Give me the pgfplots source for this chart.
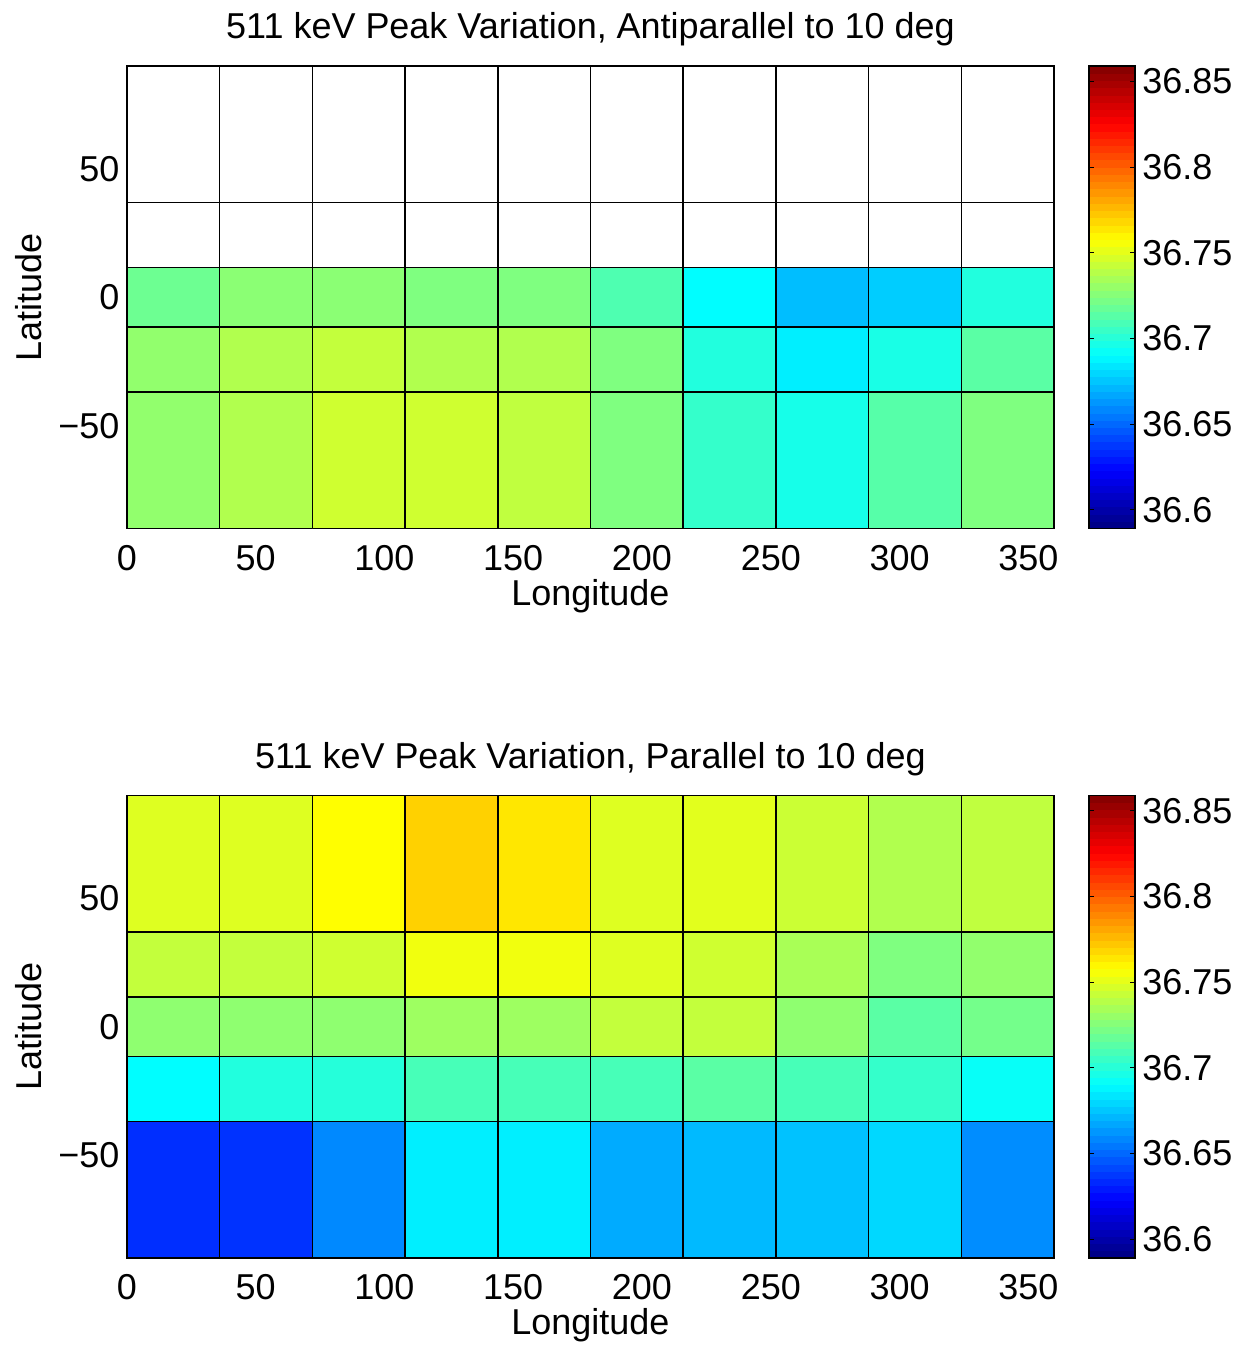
\documentclass[border=0pt]{standalone}
\usepackage{pgfplots}
\usepackage{pgfplotstable}
\pgfplotsset{compat=1.18}
\usepgfplotslibrary{patchplots}
\usepackage{fontspec}
\setmainfont{Liberation Sans}
\newcommand{\fs}{\fontsize{18}{21.6}\selectfont}
\pgfplotsset{colormap={allwhite}{rgb=(1,1,1) rgb=(1,1,1)}}
\pgfplotsset{colormap/jet}
\pgfplotstableread[row sep=\\]{
x y\\
0 36.5890\\ 1 36.5890\\ 1 36.5932\\ 0 36.5932\\
0 36.5932\\ 1 36.5932\\ 1 36.5974\\ 0 36.5974\\
0 36.5974\\ 1 36.5974\\ 1 36.6017\\ 0 36.6017\\
0 36.6017\\ 1 36.6017\\ 1 36.6059\\ 0 36.6059\\
0 36.6059\\ 1 36.6059\\ 1 36.6101\\ 0 36.6101\\
0 36.6101\\ 1 36.6101\\ 1 36.6143\\ 0 36.6143\\
0 36.6143\\ 1 36.6143\\ 1 36.6185\\ 0 36.6185\\
0 36.6185\\ 1 36.6185\\ 1 36.6228\\ 0 36.6228\\
0 36.6228\\ 1 36.6228\\ 1 36.6270\\ 0 36.6270\\
0 36.6270\\ 1 36.6270\\ 1 36.6312\\ 0 36.6312\\
0 36.6312\\ 1 36.6312\\ 1 36.6354\\ 0 36.6354\\
0 36.6354\\ 1 36.6354\\ 1 36.6396\\ 0 36.6396\\
0 36.6396\\ 1 36.6396\\ 1 36.6438\\ 0 36.6438\\
0 36.6438\\ 1 36.6438\\ 1 36.6481\\ 0 36.6481\\
0 36.6481\\ 1 36.6481\\ 1 36.6523\\ 0 36.6523\\
0 36.6523\\ 1 36.6523\\ 1 36.6565\\ 0 36.6565\\
0 36.6565\\ 1 36.6565\\ 1 36.6607\\ 0 36.6607\\
0 36.6607\\ 1 36.6607\\ 1 36.6649\\ 0 36.6649\\
0 36.6649\\ 1 36.6649\\ 1 36.6692\\ 0 36.6692\\
0 36.6692\\ 1 36.6692\\ 1 36.6734\\ 0 36.6734\\
0 36.6734\\ 1 36.6734\\ 1 36.6776\\ 0 36.6776\\
0 36.6776\\ 1 36.6776\\ 1 36.6818\\ 0 36.6818\\
0 36.6818\\ 1 36.6818\\ 1 36.6860\\ 0 36.6860\\
0 36.6860\\ 1 36.6860\\ 1 36.6903\\ 0 36.6903\\
0 36.6903\\ 1 36.6903\\ 1 36.6945\\ 0 36.6945\\
0 36.6945\\ 1 36.6945\\ 1 36.6987\\ 0 36.6987\\
0 36.6987\\ 1 36.6987\\ 1 36.7029\\ 0 36.7029\\
0 36.7029\\ 1 36.7029\\ 1 36.7071\\ 0 36.7071\\
0 36.7071\\ 1 36.7071\\ 1 36.7113\\ 0 36.7113\\
0 36.7113\\ 1 36.7113\\ 1 36.7156\\ 0 36.7156\\
0 36.7156\\ 1 36.7156\\ 1 36.7198\\ 0 36.7198\\
0 36.7198\\ 1 36.7198\\ 1 36.7240\\ 0 36.7240\\
0 36.7240\\ 1 36.7240\\ 1 36.7282\\ 0 36.7282\\
0 36.7282\\ 1 36.7282\\ 1 36.7324\\ 0 36.7324\\
0 36.7324\\ 1 36.7324\\ 1 36.7367\\ 0 36.7367\\
0 36.7367\\ 1 36.7367\\ 1 36.7409\\ 0 36.7409\\
0 36.7409\\ 1 36.7409\\ 1 36.7451\\ 0 36.7451\\
0 36.7451\\ 1 36.7451\\ 1 36.7493\\ 0 36.7493\\
0 36.7493\\ 1 36.7493\\ 1 36.7535\\ 0 36.7535\\
0 36.7535\\ 1 36.7535\\ 1 36.7578\\ 0 36.7578\\
0 36.7578\\ 1 36.7578\\ 1 36.7620\\ 0 36.7620\\
0 36.7620\\ 1 36.7620\\ 1 36.7662\\ 0 36.7662\\
0 36.7662\\ 1 36.7662\\ 1 36.7704\\ 0 36.7704\\
0 36.7704\\ 1 36.7704\\ 1 36.7746\\ 0 36.7746\\
0 36.7746\\ 1 36.7746\\ 1 36.7788\\ 0 36.7788\\
0 36.7788\\ 1 36.7788\\ 1 36.7831\\ 0 36.7831\\
0 36.7831\\ 1 36.7831\\ 1 36.7873\\ 0 36.7873\\
0 36.7873\\ 1 36.7873\\ 1 36.7915\\ 0 36.7915\\
0 36.7915\\ 1 36.7915\\ 1 36.7957\\ 0 36.7957\\
0 36.7957\\ 1 36.7957\\ 1 36.7999\\ 0 36.7999\\
0 36.7999\\ 1 36.7999\\ 1 36.8042\\ 0 36.8042\\
0 36.8042\\ 1 36.8042\\ 1 36.8084\\ 0 36.8084\\
0 36.8084\\ 1 36.8084\\ 1 36.8126\\ 0 36.8126\\
0 36.8126\\ 1 36.8126\\ 1 36.8168\\ 0 36.8168\\
0 36.8168\\ 1 36.8168\\ 1 36.8210\\ 0 36.8210\\
0 36.8210\\ 1 36.8210\\ 1 36.8253\\ 0 36.8253\\
0 36.8253\\ 1 36.8253\\ 1 36.8295\\ 0 36.8295\\
0 36.8295\\ 1 36.8295\\ 1 36.8337\\ 0 36.8337\\
0 36.8337\\ 1 36.8337\\ 1 36.8379\\ 0 36.8379\\
0 36.8379\\ 1 36.8379\\ 1 36.8421\\ 0 36.8421\\
0 36.8421\\ 1 36.8421\\ 1 36.8463\\ 0 36.8463\\
0 36.8463\\ 1 36.8463\\ 1 36.8506\\ 0 36.8506\\
0 36.8506\\ 1 36.8506\\ 1 36.8548\\ 0 36.8548\\
0 36.8548\\ 1 36.8548\\ 1 36.8590\\ 0 36.8590\\
}\cbtab
\pgfplotsset{
  heat/.style={
    scale only axis, width=464pt, height=231.5pt,
    xmin=0, xmax=360, ymin=-90, ymax=90,
    xtick={0,50,100,150,200,250,300,350}, ytick={-50,0,50}, yticklabels={−50,0,50},
    tick align=inside, xtick pos=both, ytick pos=both,
    xticklabel pos=bottom, yticklabel pos=left,
    major tick length=4pt,
    tick style={black, line width=0.5pt},
    axis line style={black, line width=0.7pt},
    /pgf/number format/assume math mode=true,
    tick label style={font=\fs},
    xticklabel style={anchor=base, yshift=-21pt},
    yticklabel style={anchor=east, inner sep=0pt, xshift=-3.5pt},
    label style={font=\fs},
    title style={font=\fs, at={(axis description cs:0.5,1)}, anchor=base, yshift=7.5pt},
    xlabel={Longitude}, ylabel={Latitude},
    xlabel style={at={(axis description cs:0.5,0)}, anchor=base, yshift=-38.5pt},
    ylabel style={at={(axis description cs:-0.0916,0.5)}, anchor=base},
    colormap/jet,
    point meta min=36.589, point meta max=36.859,
  },
  cbar/.style={
    scale only axis, width=23pt, height=231.5pt,
    xmin=0, xmax=1, ymin=36.589, ymax=36.859,
    xtick=\empty,
    ytick={36.6,36.65,36.7,36.75,36.8,36.85},
    yticklabels={36.6,36.65,36.7,36.75,36.8,36.85},
    tick align=inside, ytick pos=both, yticklabel pos=right,
    major tick length=2.5pt,
    axis on top,
    tick style={black, line width=0.5pt},
    /pgf/number format/assume math mode=true,
    yticklabel style={font=\fs, anchor=west, inner sep=0pt, xshift=3.5pt},
    axis line style={black, line width=0.7pt},
    colormap/jet, point meta min=36.589, point meta max=36.859,
  },
  cbplot/.style={patch, patch type=rectangle, shader=faceted, faceted color=mapped color, line width=0.4pt, point meta=y},
  cells/.style={patch, patch type=rectangle, shader=faceted, faceted color=black, line width=0.8pt, point meta=explicit},
}
\begin{document}
\begin{tikzpicture}
\begin{axis}[heat, at={(0,0)}, anchor=north west,
  title={511 keV Peak Variation, Antiparallel to 10 deg}]
\addplot[cells, colormap name=allwhite] table[meta=c, row sep=\\] {
x y c\\
0 11.54 0\\ 36 11.54 0\\ 36 36.87 0\\ 0 36.87 0\\
36 11.54 0\\ 72 11.54 0\\ 72 36.87 0\\ 36 36.87 0\\
72 11.54 0\\ 108 11.54 0\\ 108 36.87 0\\ 72 36.87 0\\
108 11.54 0\\ 144 11.54 0\\ 144 36.87 0\\ 108 36.87 0\\
144 11.54 0\\ 180 11.54 0\\ 180 36.87 0\\ 144 36.87 0\\
180 11.54 0\\ 216 11.54 0\\ 216 36.87 0\\ 180 36.87 0\\
216 11.54 0\\ 252 11.54 0\\ 252 36.87 0\\ 216 36.87 0\\
252 11.54 0\\ 288 11.54 0\\ 288 36.87 0\\ 252 36.87 0\\
288 11.54 0\\ 324 11.54 0\\ 324 36.87 0\\ 288 36.87 0\\
324 11.54 0\\ 360 11.54 0\\ 360 36.87 0\\ 324 36.87 0\\
0 36.87 0\\ 36 36.87 0\\ 36 90 0\\ 0 90 0\\
36 36.87 0\\ 72 36.87 0\\ 72 90 0\\ 36 90 0\\
72 36.87 0\\ 108 36.87 0\\ 108 90 0\\ 72 90 0\\
108 36.87 0\\ 144 36.87 0\\ 144 90 0\\ 108 90 0\\
144 36.87 0\\ 180 36.87 0\\ 180 90 0\\ 144 90 0\\
180 36.87 0\\ 216 36.87 0\\ 216 90 0\\ 180 90 0\\
216 36.87 0\\ 252 36.87 0\\ 252 90 0\\ 216 90 0\\
252 36.87 0\\ 288 36.87 0\\ 288 90 0\\ 252 90 0\\
288 36.87 0\\ 324 36.87 0\\ 324 90 0\\ 288 90 0\\
324 36.87 0\\ 360 36.87 0\\ 360 90 0\\ 324 90 0\\
};
\addplot[cells] table[meta=c, row sep=\\] {
x y c\\
0 -90 36.729\\ 36 -90 36.729\\ 36 -36.87 36.729\\ 0 -36.87 36.729\\
36 -90 36.737\\ 72 -90 36.737\\ 72 -36.87 36.737\\ 36 -36.87 36.737\\
72 -90 36.745\\ 108 -90 36.745\\ 108 -36.87 36.745\\ 72 -36.87 36.745\\
108 -90 36.745\\ 144 -90 36.745\\ 144 -36.87 36.745\\ 108 -36.87 36.745\\
144 -90 36.741\\ 180 -90 36.741\\ 180 -36.87 36.741\\ 144 -36.87 36.741\\
180 -90 36.724\\ 216 -90 36.724\\ 216 -36.87 36.724\\ 180 -36.87 36.724\\
216 -90 36.704\\ 252 -90 36.704\\ 252 -36.87 36.704\\ 216 -36.87 36.704\\
252 -90 36.696\\ 288 -90 36.696\\ 288 -36.87 36.696\\ 252 -36.87 36.696\\
288 -90 36.713\\ 324 -90 36.713\\ 324 -36.87 36.713\\ 288 -36.87 36.713\\
324 -90 36.724\\ 360 -90 36.724\\ 360 -36.87 36.724\\ 324 -36.87 36.724\\
0 -36.87 36.729\\ 36 -36.87 36.729\\ 36 -11.54 36.729\\ 0 -11.54 36.729\\
36 -36.87 36.737\\ 72 -36.87 36.737\\ 72 -11.54 36.737\\ 36 -11.54 36.737\\
72 -36.87 36.742\\ 108 -36.87 36.742\\ 108 -11.54 36.742\\ 72 -11.54 36.742\\
108 -36.87 36.737\\ 144 -36.87 36.737\\ 144 -11.54 36.737\\ 108 -11.54 36.737\\
144 -36.87 36.737\\ 180 -36.87 36.737\\ 180 -11.54 36.737\\ 144 -11.54 36.737\\
180 -36.87 36.724\\ 216 -36.87 36.724\\ 216 -11.54 36.724\\ 180 -11.54 36.724\\
216 -36.87 36.699\\ 252 -36.87 36.699\\ 252 -11.54 36.699\\ 216 -11.54 36.699\\
252 -36.87 36.686\\ 288 -36.87 36.686\\ 288 -11.54 36.686\\ 252 -11.54 36.686\\
288 -36.87 36.697\\ 324 -36.87 36.697\\ 324 -11.54 36.697\\ 288 -11.54 36.697\\
324 -36.87 36.714\\ 360 -36.87 36.714\\ 360 -11.54 36.714\\ 324 -11.54 36.714\\
0 -11.54 36.719\\ 36 -11.54 36.719\\ 36 11.54 36.719\\ 0 11.54 36.719\\
36 -11.54 36.727\\ 72 -11.54 36.727\\ 72 11.54 36.727\\ 36 11.54 36.727\\
72 -11.54 36.727\\ 108 -11.54 36.727\\ 108 11.54 36.727\\ 72 11.54 36.727\\
108 -11.54 36.724\\ 144 -11.54 36.724\\ 144 11.54 36.724\\ 108 11.54 36.724\\
144 -11.54 36.724\\ 180 -11.54 36.724\\ 180 11.54 36.724\\ 144 11.54 36.724\\
180 -11.54 36.711\\ 216 -11.54 36.711\\ 216 11.54 36.711\\ 180 11.54 36.711\\
216 -11.54 36.690\\ 252 -11.54 36.690\\ 252 11.54 36.690\\ 216 11.54 36.690\\
252 -11.54 36.673\\ 288 -11.54 36.673\\ 288 11.54 36.673\\ 252 11.54 36.673\\
288 -11.54 36.677\\ 324 -11.54 36.677\\ 324 11.54 36.677\\ 288 11.54 36.677\\
324 -11.54 36.699\\ 360 -11.54 36.699\\ 360 11.54 36.699\\ 324 11.54 36.699\\
};
\end{axis}
\begin{axis}[cbar, at={(481.5pt,0)}, anchor=north west]
\addplot[cbplot] table {\cbtab};
\end{axis}
\begin{axis}[heat, at={(0,-365pt)}, anchor=north west,
  title={511 keV Peak Variation, Parallel to 10 deg}]
\addplot[cells] table[meta=c, row sep=\\] {
x y c\\
0 -90 36.635\\ 36 -90 36.635\\ 36 -36.87 36.635\\ 0 -36.87 36.635\\
36 -90 36.636\\ 72 -90 36.636\\ 72 -36.87 36.636\\ 36 -36.87 36.636\\
72 -90 36.659\\ 108 -90 36.659\\ 108 -36.87 36.659\\ 72 -36.87 36.659\\
108 -90 36.686\\ 144 -90 36.686\\ 144 -36.87 36.686\\ 108 -36.87 36.686\\
144 -90 36.686\\ 180 -90 36.686\\ 180 -36.87 36.686\\ 144 -36.87 36.686\\
180 -90 36.668\\ 216 -90 36.668\\ 216 -36.87 36.668\\ 180 -36.87 36.668\\
216 -90 36.672\\ 252 -90 36.672\\ 252 -36.87 36.672\\ 216 -36.87 36.672\\
252 -90 36.674\\ 288 -90 36.674\\ 288 -36.87 36.674\\ 252 -36.87 36.674\\
288 -90 36.680\\ 324 -90 36.680\\ 324 -36.87 36.680\\ 288 -36.87 36.680\\
324 -90 36.660\\ 360 -90 36.660\\ 360 -36.87 36.660\\ 324 -36.87 36.660\\
0 -36.87 36.690\\ 36 -36.87 36.690\\ 36 -11.54 36.690\\ 0 -11.54 36.690\\
36 -36.87 36.699\\ 72 -36.87 36.699\\ 72 -11.54 36.699\\ 36 -11.54 36.699\\
72 -36.87 36.700\\ 108 -36.87 36.700\\ 108 -11.54 36.700\\ 72 -11.54 36.700\\
108 -36.87 36.709\\ 144 -36.87 36.709\\ 144 -11.54 36.709\\ 108 -11.54 36.709\\
144 -36.87 36.709\\ 180 -36.87 36.709\\ 180 -11.54 36.709\\ 144 -11.54 36.709\\
180 -36.87 36.709\\ 216 -36.87 36.709\\ 216 -11.54 36.709\\ 180 -11.54 36.709\\
216 -36.87 36.714\\ 252 -36.87 36.714\\ 252 -11.54 36.714\\ 216 -11.54 36.714\\
252 -36.87 36.709\\ 288 -36.87 36.709\\ 288 -11.54 36.709\\ 252 -11.54 36.709\\
288 -36.87 36.704\\ 324 -36.87 36.704\\ 324 -11.54 36.704\\ 288 -11.54 36.704\\
324 -36.87 36.692\\ 360 -36.87 36.692\\ 360 -11.54 36.692\\ 324 -11.54 36.692\\
0 -11.54 36.728\\ 36 -11.54 36.728\\ 36 11.54 36.728\\ 0 11.54 36.728\\
36 -11.54 36.728\\ 72 -11.54 36.728\\ 72 11.54 36.728\\ 36 11.54 36.728\\
72 -11.54 36.728\\ 108 -11.54 36.728\\ 108 11.54 36.728\\ 72 11.54 36.728\\
108 -11.54 36.732\\ 144 -11.54 36.732\\ 144 11.54 36.732\\ 108 11.54 36.732\\
144 -11.54 36.732\\ 180 -11.54 36.732\\ 180 11.54 36.732\\ 144 11.54 36.732\\
180 -11.54 36.742\\ 216 -11.54 36.742\\ 216 11.54 36.742\\ 180 11.54 36.742\\
216 -11.54 36.742\\ 252 -11.54 36.742\\ 252 11.54 36.742\\ 216 11.54 36.742\\
252 -11.54 36.728\\ 288 -11.54 36.728\\ 288 11.54 36.728\\ 252 11.54 36.728\\
288 -11.54 36.714\\ 324 -11.54 36.714\\ 324 11.54 36.714\\ 288 11.54 36.714\\
324 -11.54 36.721\\ 360 -11.54 36.721\\ 360 11.54 36.721\\ 324 11.54 36.721\\
0 11.54 36.742\\ 36 11.54 36.742\\ 36 36.87 36.742\\ 0 36.87 36.742\\
36 11.54 36.742\\ 72 11.54 36.742\\ 72 36.87 36.742\\ 36 36.87 36.742\\
72 11.54 36.745\\ 108 11.54 36.745\\ 108 36.87 36.745\\ 72 36.87 36.745\\
108 11.54 36.754\\ 144 11.54 36.754\\ 144 36.87 36.754\\ 108 36.87 36.754\\
144 11.54 36.754\\ 180 11.54 36.754\\ 180 36.87 36.754\\ 144 36.87 36.754\\
180 11.54 36.749\\ 216 11.54 36.749\\ 216 36.87 36.749\\ 180 36.87 36.749\\
216 11.54 36.745\\ 252 11.54 36.745\\ 252 36.87 36.745\\ 216 36.87 36.745\\
252 11.54 36.735\\ 288 11.54 36.735\\ 288 36.87 36.735\\ 252 36.87 36.735\\
288 11.54 36.724\\ 324 11.54 36.724\\ 324 36.87 36.724\\ 288 36.87 36.724\\
324 11.54 36.729\\ 360 11.54 36.729\\ 360 36.87 36.729\\ 324 36.87 36.729\\
0 36.87 36.749\\ 36 36.87 36.749\\ 36 90 36.749\\ 0 90 36.749\\
36 36.87 36.749\\ 72 36.87 36.749\\ 72 90 36.749\\ 36 90 36.749\\
72 36.87 36.758\\ 108 36.87 36.758\\ 108 90 36.758\\ 72 90 36.758\\
108 36.87 36.770\\ 144 36.87 36.770\\ 144 90 36.770\\ 108 90 36.770\\
144 36.87 36.764\\ 180 36.87 36.764\\ 180 90 36.764\\ 144 90 36.764\\
180 36.87 36.749\\ 216 36.87 36.749\\ 216 90 36.749\\ 180 90 36.749\\
216 36.87 36.750\\ 252 36.87 36.750\\ 252 90 36.750\\ 216 90 36.750\\
252 36.87 36.744\\ 288 36.87 36.744\\ 288 90 36.744\\ 252 90 36.744\\
288 36.87 36.737\\ 324 36.87 36.737\\ 324 90 36.737\\ 288 90 36.737\\
324 36.87 36.741\\ 360 36.87 36.741\\ 360 90 36.741\\ 324 90 36.741\\
};
\end{axis}
\begin{axis}[cbar, at={(481.5pt,-365pt)}, anchor=north west]
\addplot[cbplot] table {\cbtab};
\end{axis}
\path (-63.5pt,33pt) rectangle (559.5pt,-641.5pt);
\end{tikzpicture}
\end{document}
